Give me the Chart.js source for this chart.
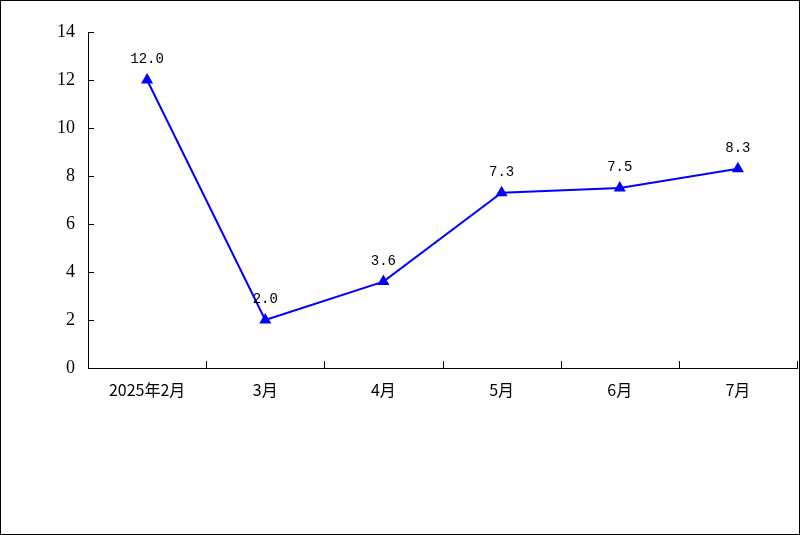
<!DOCTYPE html>
<html>
<head>
<meta charset="utf-8">
<script src="https://cdn.jsdelivr.net/npm/chart.js@4"></script>
<style>
  html, body { margin: 0; padding: 0; background: #fff; }
  #wrap { width: 800px; height: 535px; }
</style>
</head>
<body>
<div id="wrap"><canvas id="chart" width="800" height="535"></canvas></div>
<script>
// chart data
const months = ['2025年2月', '3月', '4月', '5月', '6月', '7月'];
const values = [12.0, 2.0, 3.6, 7.3, 7.5, 8.3];
const yTicks = [0, 2, 4, 6, 8, 10, 12, 14];

// outer frame, inner tick marks, value labels
const decorations = {
    id: 'decorations',
    beforeDraw(chart) {
        const ctx = chart.ctx;
        ctx.save();
        ctx.fillStyle = '#fff';
        ctx.fillRect(0, 0, chart.width, chart.height);
        ctx.restore();
    },
    afterDraw(chart) {
        const ctx = chart.ctx;
        const x = chart.scales.x;
        const y = chart.scales.y;
        ctx.save();
        ctx.strokeStyle = '#000';
        ctx.lineWidth = 1;

        // frame round the whole picture
        ctx.strokeRect(0.5, 0.5, chart.width - 1, chart.height - 1);

        // y tick marks, pointing into the plot
        yTicks.forEach(v => {
            const py = Math.round(y.getPixelForValue(v)) + 0.5;
            ctx.beginPath();
            ctx.moveTo(x.left, py);
            ctx.lineTo(x.left + 6, py);
            ctx.stroke();
        });

        // x tick marks between categories
        for (let i = 0; i <= months.length; i++) {
            const px = Math.round(x.getPixelForValue(i - 0.5)) + 0.5;
            ctx.beginPath();
            ctx.moveTo(px, y.bottom);
            ctx.lineTo(px, y.bottom - 7);
            ctx.stroke();
        }

        // value labels above the points
        const meta = chart.getDatasetMeta(0);
        ctx.fillStyle = '#000';
        ctx.font = '14px "Liberation Mono", monospace';
        ctx.textAlign = 'center';
        ctx.textBaseline = 'alphabetic';
        meta.data.forEach((pt, i) => {
            ctx.fillText(values[i].toFixed(1), pt.x, pt.y - 17);
        });
        ctx.restore();
    }
};

new Chart(document.getElementById('chart'), {
    type: 'line',
    data: {
        labels: months,
        datasets: [{
            data: values,
            borderColor: '#0000ff',
            backgroundColor: '#0000ff',
            borderWidth: 2,
            pointStyle: 'triangle',
            pointRadius: 5,
            pointHoverRadius: 5,
            tension: 0
        }]
    },
    options: {
        responsive: false,
        animation: false,
        events: [],
        layout: { autoPadding: false, padding: { left: 0, top: 32, right: 3, bottom: 0 } },
        plugins: {
            legend: { display: false },
            tooltip: { enabled: false }
        },
        scales: {
            x: {
                offset: true,
                grid: { display: false, drawTicks: false },
                border: { display: true, color: '#000', width: 1 },
                ticks: {
                    color: '#000',
                    padding: 12,
                    maxRotation: 0,
                    autoSkip: false,
                    font: { family: '"Noto Sans CJK SC", sans-serif', size: 16 }
                },
                afterFit(scale) { scale.height = 167; }
            },
            y: {
                min: 0,
                max: 14,
                afterBuildTicks(scale) { scale.ticks = yTicks.map(v => ({ value: v })); },
                grid: { display: false, drawTicks: false },
                border: { display: true, color: '#000', width: 1 },
                ticks: {
                    color: '#000',
                    padding: 13,
                    font: { family: '"Liberation Serif", serif', size: 18 }
                },
                afterFit(scale) { scale.width = 88; }
            }
        }
    },
    plugins: [decorations]
});
</script>
</body>
</html>
